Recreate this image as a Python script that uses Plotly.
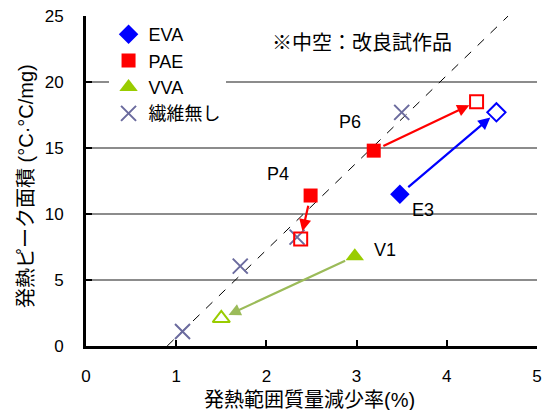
import plotly.graph_objects as go

# ---- data ----
fiber_x = [1.07, 1.71, 2.34, 3.50]
fiber_y = [1.1, 6.05, 8.25, 17.7]

eva_x = [3.48]
eva_y = [11.5]
eva_open_x = [4.55]
eva_open_y = [17.7]

pae_x = [2.49, 3.19]
pae_y = [11.4, 14.8]
pae_open_x = [2.38, 4.33]
pae_open_y = [8.1, 18.5]

vva_x = [2.98]
vva_y = [6.8]
vva_open_x = [1.50]
vva_open_y = [2.1]

trend_x = [0.90, 4.68]
trend_y = [0.0, 25.0]

label_text = ["E3", "P4", "P6", "V1"]
label_x = [3.74, 2.13, 2.93, 3.32]
label_y = [10.3, 13.0, 17.0, 7.3]

x_ticks = [0, 1, 2, 3, 4, 5]
y_ticks = [0, 5, 10, 15, 20, 25]

FONT = "Liberation Sans, Noto Sans CJK JP, sans-serif"
BLUE = "#0000FF"
RED = "#FF0000"
GREEN = "#99CC00"
GREEN_ARROW = "#9BBB59"
CROSS = "#6B6B9E"

fig = go.Figure()

fig.add_trace(go.Scatter(x=trend_x, y=trend_y, mode="lines",
                         line=dict(color="black", width=1, dash="dash"),
                         showlegend=False, hoverinfo="skip"))

fig.add_trace(go.Scatter(x=eva_x, y=eva_y, mode="markers", name="EVA",
                         marker=dict(symbol="diamond", size=15, color=BLUE)))
fig.add_trace(go.Scatter(x=pae_x, y=pae_y, mode="markers", name="PAE",
                         marker=dict(symbol="square", size=14, color=RED)))
fig.add_trace(go.Scatter(x=vva_x, y=vva_y, mode="markers", name="VVA",
                         marker=dict(symbol="triangle-up", size=16, color=GREEN)))
fig.add_trace(go.Scatter(x=fiber_x, y=fiber_y, mode="markers", name="繊維無し",
                         marker=dict(symbol="x-thin-open", size=15,
                                     line=dict(color=CROSS, width=2), color=CROSS)))

fig.add_trace(go.Scatter(x=eva_open_x, y=eva_open_y, mode="markers", showlegend=False,
                         marker=dict(symbol="diamond-open", size=14,
                                     line=dict(color=BLUE, width=2), color=BLUE)))
fig.add_trace(go.Scatter(x=pae_open_x, y=pae_open_y, mode="markers", showlegend=False,
                         marker=dict(symbol="square-open", size=13,
                                     line=dict(color=RED, width=2), color=RED)))
fig.add_trace(go.Scatter(x=vva_open_x, y=vva_open_y, mode="markers", showlegend=False,
                         marker=dict(symbol="triangle-up-open", size=15,
                                     line=dict(color=GREEN, width=2), color=GREEN)))

annotations = []

def arrows(x0s, y0s, x1s, y1s, color):
    for a, b, c, d in zip(x0s, y0s, x1s, y1s):
        annotations.append(dict(x=c, y=d, ax=a, ay=b, xref="x", yref="y",
                                axref="x", ayref="y", text="", showarrow=True,
                                arrowhead=2, arrowsize=1.1, arrowwidth=2.2,
                                arrowcolor=color, standoff=8, startstandoff=9))

arrows(eva_x, eva_y, eva_open_x, eva_open_y, BLUE)
arrows(pae_x, pae_y, pae_open_x, pae_open_y, RED)
arrows(vva_x, vva_y, vva_open_x, vva_open_y, GREEN_ARROW)

for t, x, y in zip(label_text, label_x, label_y):
    annotations.append(dict(x=x, y=y, xref="x", yref="y", text=t, showarrow=False,
                            font=dict(size=18, color="black")))

annotations.append(dict(x=3.06, y=22.95, xref="x", yref="y", text="※中空：改良試作品",
                        showarrow=False, font=dict(size=20, color="black")))

# axis titles
annotations.append(dict(x=0.495, y=0, xref="paper", yref="paper", yanchor="top",
                        yshift=-41, text="発熱範囲質量減少率(%)", showarrow=False,
                        font=dict(size=20, color="black")))
annotations.append(dict(x=0, y=0.5, xref="paper", yref="paper", xanchor="center",
                        xshift=-60, yshift=-5, textangle=-90,
                        text="発熱ピーク面積 (°C·°C/mg)", showarrow=False,
                        font=dict(size=20, color="black")))

fig.update_layout(
    width=543, height=410,
    margin=dict(l=86, r=6, t=16, b=64),
    paper_bgcolor="white", plot_bgcolor="white",
    font=dict(family=FONT, size=17, color="black"),
    annotations=annotations,
    shapes=[dict(type="rect", xref="paper", yref="y", x0=0, x1=0.36, y0=19.6, y1=20.4,
                 fillcolor="white", line=dict(width=0), layer="between")],
    legend=dict(x=0.05, y=1.0, xanchor="left", yanchor="top",
                bgcolor="white", borderwidth=0, font=dict(size=18),
                tracegroupgap=0, itemsizing="trace"),
    xaxis=dict(range=[0, 5], tickvals=x_ticks, ticks="inside", ticklen=6,
               tickwidth=2, tickcolor="black", showline=True, linecolor="black",
               linewidth=3, showgrid=False, zeroline=False, automargin=False,
               ticklabelstandoff=13, ticklabeloverflow="allow"),
    yaxis=dict(range=[0, 25], tickvals=y_ticks, ticks="inside", ticklen=6,
               tickwidth=2, tickcolor="black", showline=True, linecolor="black",
               linewidth=3, showgrid=True, gridcolor="#8c8c8c", gridwidth=2,
               zeroline=False, automargin=False, ticklabelstandoff=16,
               ticklabeloverflow="allow"),
)

fig.write_html("out.html", config={"displayModeBar": False},
               post_script="document.body.style.margin='0';document.body.style.overflow='hidden';")
